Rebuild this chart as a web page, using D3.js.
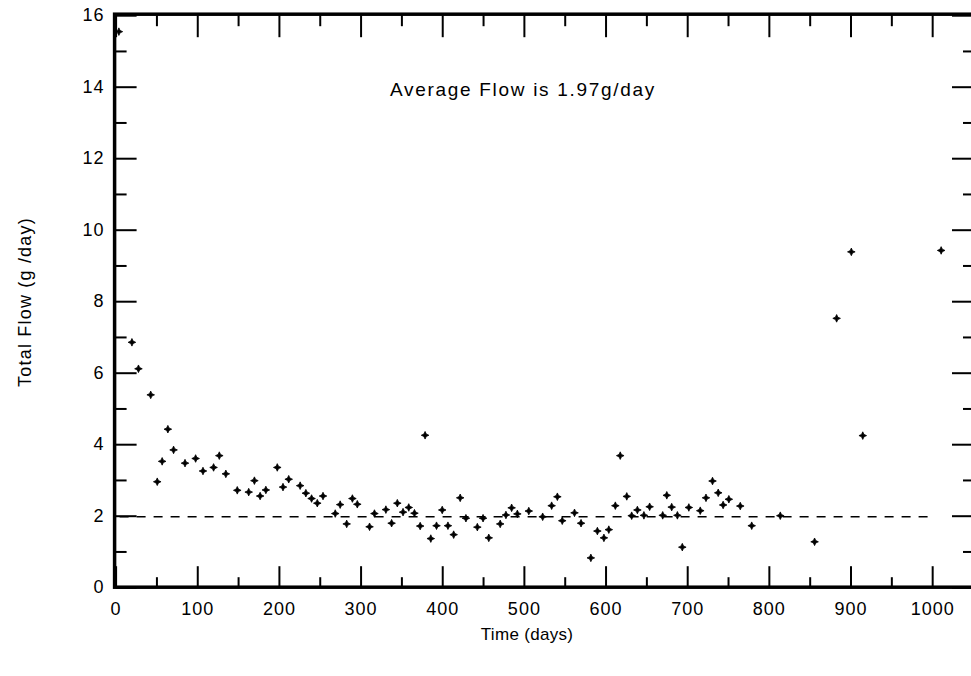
<!DOCTYPE html>
<html>
<head>
<meta charset="utf-8">
<script src="https://cdn.jsdelivr.net/npm/d3@7"></script>
<style>
  html, body { margin: 0; padding: 0; background: #fff; }
  svg { display: block; }
  text { font-family: "Liberation Sans", Arial, Helvetica, sans-serif; fill: #000; }
</style>
</head>
<body>
<svg id="chart" width="971" height="676"></svg>
<script>
// ---- data ----
const days = [4, 20, 28, 43, 51, 57, 64, 71, 85, 98, 107, 120, 127, 135, 149, 163, 170, 177, 184,
  198, 205, 212, 226, 233, 240, 247, 254, 269, 275, 283, 290, 296, 311, 317, 331, 338, 345,
  352, 359, 366, 373, 379, 386, 393, 400, 407, 414, 422, 429, 443, 450, 457, 471, 478, 485, 492,
  506, 523, 534, 541, 547, 562, 570, 582, 590, 598, 604, 612, 618, 626, 632, 639, 647, 654,
  670, 675, 681, 688, 694, 702, 716, 723, 731, 738, 744, 751, 765, 779, 814, 856, 883, 901, 915, 1011];
const flow = [15.54, 6.85, 6.11, 5.38, 2.95, 3.52, 4.42, 3.84, 3.47, 3.60, 3.25, 3.35, 3.68, 3.17, 2.71, 2.66, 2.98, 2.55, 2.72,
  3.35, 2.80, 3.02, 2.84, 2.63, 2.48, 2.35, 2.55, 2.06, 2.31, 1.77, 2.48, 2.32, 1.69, 2.06, 2.17, 1.79, 2.35,
  2.10, 2.23, 2.07, 1.71, 4.25, 1.36, 1.72, 2.16, 1.72, 1.47, 2.50, 1.93, 1.68, 1.93, 1.38, 1.77, 2.02, 2.22, 2.05,
  2.13, 1.97, 2.28, 2.53, 1.86, 2.08, 1.79, 0.82, 1.57, 1.38, 1.61, 2.28, 3.68, 2.54, 2.00, 2.16, 2.01, 2.25,
  2.01, 2.57, 2.24, 2.01, 1.12, 2.23, 2.14, 2.50, 2.97, 2.64, 2.30, 2.46, 2.27, 1.72, 2.00, 1.27, 7.52, 9.38, 4.24, 9.42];
const averageFlow = 1.97;
const averageRange = [0, 1000];
const xMajorTicks = [0, 100, 200, 300, 400, 500, 600, 700, 800, 900, 1000];
const xMinorTicks = [50, 150, 250, 350, 450, 550, 650, 750, 850, 950, 1050];
const yMajorTicks = [0, 2, 4, 6, 8, 10, 12, 14, 16];
const yMinorTicks = [1, 3, 5, 7, 9, 11, 13, 15];
const annotation = "Average Flow is 1.97g/day";
const xTitle = "Time (days)";
const yTitle = "Total Flow (g /day)";

// ---- scales ----
const svg = d3.select("#chart");
const x = d3.scaleLinear().domain([0, 1050]).range([115.6, 973]);
const y = d3.scaleLinear().domain([0, 16]).range([587.2, 15.2]);
const fmt = d3.format("d");

function styleTicks(g, w) {
  g.select(".domain").remove();
  g.selectAll(".tick line").attr("stroke", "#000").attr("stroke-width", w);
}
function styleLabels(g) {
  g.selectAll(".tick text").attr("font-size", 18).style("letter-spacing", "1px")
    .attr("font-family", "Liberation Sans, Arial, sans-serif");
}

// bottom ticks (inward) + labels
svg.append("g").attr("transform", `translate(0,${y(0)})`)
  .call(d3.axisBottom(x).tickValues(xMajorTicks).tickFormat(fmt).tickSizeInner(-21).tickSizeOuter(0).tickPadding(15))
  .call(g => styleTicks(g, 2))
  .call(styleLabels);
svg.append("g").attr("transform", `translate(0,${y(0)})`)
  .call(d3.axisBottom(x).tickValues(xMinorTicks).tickSizeInner(-10).tickSizeOuter(0).tickFormat(""))
  .call(g => styleTicks(g, 2));
// top ticks
svg.append("g").attr("transform", `translate(0,${y(16)})`)
  .call(d3.axisTop(x).tickValues(xMajorTicks).tickSizeInner(-22).tickSizeOuter(0).tickFormat(""))
  .call(g => styleTicks(g, 2));
svg.append("g").attr("transform", `translate(0,${y(16)})`)
  .call(d3.axisTop(x).tickValues(xMinorTicks).tickSizeInner(-11).tickSizeOuter(0).tickFormat(""))
  .call(g => styleTicks(g, 2));
// left ticks + labels
svg.append("g").attr("transform", `translate(${x(0)},0)`)
  .call(d3.axisLeft(y).tickValues(yMajorTicks).tickFormat(fmt).tickSizeInner(-21).tickSizeOuter(0).tickPadding(11))
  .call(g => styleTicks(g, 2))
  .call(styleLabels);
svg.append("g").attr("transform", `translate(${x(0)},0)`)
  .call(d3.axisLeft(y).tickValues(yMinorTicks).tickSizeInner(-11).tickSizeOuter(0).tickFormat(""))
  .call(g => styleTicks(g, 2));
// right ticks
svg.append("g").attr("transform", `translate(${x(1050)},0)`)
  .call(d3.axisRight(y).tickValues(yMajorTicks).tickSizeInner(-21).tickSizeOuter(0).tickFormat(""))
  .call(g => styleTicks(g, 2));
svg.append("g").attr("transform", `translate(${x(1050)},0)`)
  .call(d3.axisRight(y).tickValues(yMinorTicks).tickSizeInner(-10).tickSizeOuter(0).tickFormat(""))
  .call(g => styleTicks(g, 2));

// frame
svg.append("rect")
  .attr("x", x(0) - 1).attr("y", y(16) - 1)
  .attr("width", x(1050) - x(0) + 1).attr("height", y(0) - y(16) + 1)
  .attr("fill", "none").attr("stroke", "#000").attr("stroke-width", 3.5);

// average line
svg.append("line")
  .attr("x1", x(averageRange[0]) + 4).attr("x2", x(averageRange[1]))
  .attr("y1", y(averageFlow)).attr("y2", y(averageFlow))
  .attr("stroke", "#000").attr("stroke-width", 1.6).attr("stroke-dasharray", "9,8");

// points (small 4-point star markers)
const star = "M0,-3.8L1.2,-1.2L3.8,0L1.2,1.2L0,3.8L-1.2,1.2L-3.8,0L-1.2,-1.2Z";
svg.append("g").selectAll("path").data(days.map((d, i) => [d, flow[i]])).join("path")
  .attr("d", star)
  .attr("transform", d => `translate(${x(d[0])},${y(d[1])})`)
  .attr("fill", "#000").attr("stroke", "#000").attr("stroke-width", 0.8);

// annotation
svg.append("text").attr("x", 523).attr("y", 96).attr("text-anchor", "middle")
  .attr("font-size", 19).style("letter-spacing", "1.7px").text(annotation);

// axis titles
svg.append("text").attr("x", 527).attr("y", 640).attr("text-anchor", "middle")
  .attr("font-size", 17).style("letter-spacing", "0.3px").text(xTitle);
svg.append("text").attr("transform", "translate(31,302) rotate(-90)").attr("text-anchor", "middle")
  .attr("font-size", 18).style("letter-spacing", "1.2px").text(yTitle);
</script>
</body>
</html>
